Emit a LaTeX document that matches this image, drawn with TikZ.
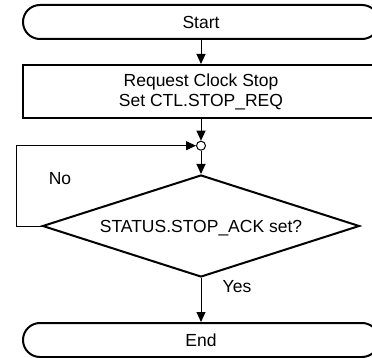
\documentclass[tikz,border=0pt]{standalone}
\usepackage{fontspec}
\setmainfont{Liberation Sans}
\usetikzlibrary{shapes.geometric,arrows.meta}
\begin{document}
\begin{tikzpicture}[x=1pt,y=-1pt,
  every node/.style={font=\fontsize{17.5}{20}\selectfont},
  term/.style={draw,line width=2pt,rectangle,rounded corners=17pt,minimum width=356pt,minimum height=34pt,inner sep=0pt},
  procbox/.style={draw,line width=2pt,rectangle,minimum width=356pt,minimum height=53pt,inner sep=0pt,align=center},
  decide/.style={draw,line width=2pt,diamond,minimum width=317pt,minimum height=102pt,inner sep=0pt,aspect=3.1},
  junc/.style={draw,line width=1pt,circle,minimum size=9pt,inner sep=0pt,fill=white},
  conn/.style={line width=1pt,-{Triangle[length=10pt,width=9pt]}},
  plain/.style={font=\fontsize{17.5}{20}\selectfont}
]
\useasboundingbox (0,0) rectangle (372,358);
\node[term] (start) at (201,22) {Start};
\node[procbox] (req) at (201,91.5) {Request Clock Stop\\Set CTL.STOP\_REQ};
\node[junc] (j) at (201,145.7) {};
\node[decide] (d) at (201,226) {};
\node at (201,228) {STATUS.STOP\_ACK set?};
\node[term] (end) at (201,340) {End};
\coordinate (lb) at (16,226);
\coordinate (lt) at (16,145.7);
\draw[conn] (start.south) -- (req.north);
\draw[conn] (req.south) -- (j.north);
\draw[conn] (j.south) -- (d.north);
\draw[conn] (d.west) -- (lb) -- (lt) -- (j.west);
\draw[conn] (d.south) -- (end.north);
\node[plain] (no) at (60,179) {No};
\node[plain] (yes) at (237,287) {Yes};
\end{tikzpicture}
\end{document}
